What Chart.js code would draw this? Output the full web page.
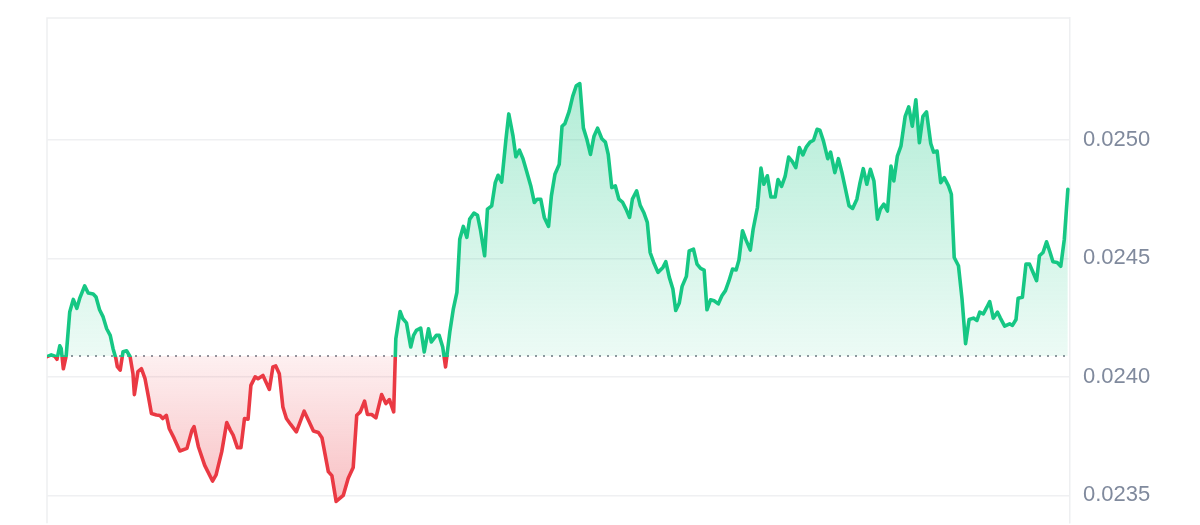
<!DOCTYPE html>
<html>
<head>
<meta charset="utf-8">
<script src="https://cdn.jsdelivr.net/npm/chart.js@4.4.1/dist/chart.umd.min.js"></script>
<style>
  html, body { margin: 0; padding: 0; background: #fff; }
  #priceChart { display: block; }
</style>
</head>
<body>
<canvas id="priceChart" width="1200" height="525"></canvas>
<script>
// Minutes since the start of the 24h window
const times = [
    0, 6, 11, 14, 18, 20, 23, 27, 32, 37,
    42, 46, 53, 58, 65, 69, 74, 79, 84, 89,
    93, 97, 99, 103, 107, 112, 117, 121, 123, 128,
    133, 138, 143, 147, 154, 159, 163, 168, 172, 179,
    187, 197, 204, 207, 213, 222, 233, 238, 246, 253,
    258, 262, 268, 273, 278, 283, 287, 293, 297, 304,
    313, 318, 322, 327, 332, 337, 343, 351, 362, 368,
    375, 382, 387, 396, 401, 407, 417, 424, 431, 436,
    441, 447, 451, 457, 463, 471, 477, 482, 488, 491,
    497, 501, 506, 512, 516, 520, 526, 531, 537, 541,
    548, 552, 557, 561, 567, 572, 577, 581, 586, 591,
    595, 601, 606, 610, 616, 620, 626, 631, 635, 640,
    646, 650, 656, 660, 665, 670, 675, 681, 686, 690,
    695, 700, 706, 710, 715, 721, 725, 729, 735, 740,
    745, 750, 755, 760, 765, 770, 775, 781, 786, 790,
    795, 800, 805, 810, 815, 820, 824, 830, 835, 840,
    845, 849, 854, 860, 867, 871, 876, 881, 885, 890,
    894, 900, 904, 910, 915, 920, 925, 929, 934, 939,
    945, 950, 955, 960, 965, 970, 974, 979, 984, 990,
    994, 1000, 1005, 1009, 1014, 1019, 1025, 1029, 1034, 1039,
    1044, 1049, 1054, 1059, 1064, 1069, 1074, 1079, 1084, 1088,
    1093, 1099, 1103, 1109, 1114, 1119, 1123, 1129, 1134, 1140,
    1144, 1149, 1154, 1159, 1164, 1169, 1173, 1178, 1183, 1188,
    1192, 1197, 1202, 1208, 1213, 1218, 1223, 1228, 1233, 1238,
    1244, 1248, 1253, 1258, 1263, 1269, 1273, 1277, 1283, 1288,
    1293, 1298, 1304, 1309, 1313, 1318, 1323, 1327, 1332, 1338,
    1342, 1348, 1355, 1359, 1364, 1367, 1373, 1378, 1383, 1387,
    1393, 1397, 1402, 1407, 1412, 1416, 1422, 1427, 1432, 1437
];

const prices = [
    0.024085, 0.024093, 0.024087, 0.024074, 0.024131, 0.024119, 0.024034, 0.024089, 0.024274, 0.024327,
    0.024289, 0.024331, 0.024384, 0.024354, 0.024350, 0.024337, 0.024283, 0.024253, 0.024203, 0.024175,
    0.024119, 0.024077, 0.024043, 0.024028, 0.024106, 0.024110, 0.024085, 0.024013, 0.023925, 0.024022,
    0.024034, 0.023992, 0.023912, 0.023845, 0.023839, 0.023837, 0.023824, 0.023837, 0.023782, 0.023740,
    0.023687, 0.023698, 0.023774, 0.023790, 0.023706, 0.023626, 0.023560, 0.023586, 0.023684, 0.023807,
    0.023775, 0.023754, 0.023701, 0.023701, 0.023824, 0.023821, 0.023964, 0.024000, 0.023992, 0.024006,
    0.023947, 0.024042, 0.024046, 0.024013, 0.023873, 0.023824, 0.023799, 0.023768, 0.023855, 0.023817,
    0.023771, 0.023765, 0.023743, 0.023600, 0.023583, 0.023474, 0.023499, 0.023572, 0.023617, 0.023838,
    0.023852, 0.023897, 0.023841, 0.023841, 0.023827, 0.023925, 0.023887, 0.023904, 0.023852, 0.024161,
    0.024276, 0.024245, 0.024228, 0.024126, 0.024175, 0.024196, 0.024206, 0.024105, 0.024203, 0.024147,
    0.024175, 0.024175, 0.024126, 0.024042, 0.024189, 0.024287, 0.024357, 0.024581, 0.024635, 0.024589,
    0.024666, 0.024691, 0.024682, 0.024623, 0.024511, 0.024708, 0.024722, 0.024820, 0.024851, 0.024822,
    0.025002, 0.025110, 0.025016, 0.024929, 0.024957, 0.024921, 0.024869, 0.024806, 0.024736, 0.024750,
    0.024750, 0.024673, 0.024635, 0.024764, 0.024855, 0.024897, 0.025058, 0.025069, 0.025121, 0.025184,
    0.025229, 0.025238, 0.025051, 0.025002, 0.024939, 0.025016, 0.025050, 0.025005, 0.024991, 0.024939,
    0.024799, 0.024806, 0.024750, 0.024738, 0.024708, 0.024673, 0.024750, 0.024785, 0.024724, 0.024694,
    0.024652, 0.024525, 0.024483, 0.024441, 0.024462, 0.024486, 0.024420, 0.024371, 0.024280, 0.024312,
    0.024382, 0.024424, 0.024532, 0.024539, 0.024476, 0.024458, 0.024451, 0.024283, 0.024325, 0.024321,
    0.024308, 0.024342, 0.024364, 0.024406, 0.024455, 0.024451, 0.024493, 0.024617, 0.024577, 0.024535,
    0.024623, 0.024715, 0.024881, 0.024813, 0.024849, 0.024759, 0.024759, 0.024833, 0.024804, 0.024846,
    0.024928, 0.024910, 0.024883, 0.024968, 0.024937, 0.024971, 0.024991, 0.024999, 0.025045, 0.025041,
    0.024995, 0.024921, 0.024949, 0.024862, 0.024921, 0.024862, 0.024806, 0.024722, 0.024711, 0.024750,
    0.024813, 0.024879, 0.024813, 0.024876, 0.024827, 0.024666, 0.024708, 0.024729, 0.024700, 0.024890,
    0.024827, 0.024932, 0.024974, 0.025100, 0.025140, 0.025058, 0.025170, 0.024988, 0.025100, 0.025119,
    0.024985, 0.024949, 0.024953, 0.024820, 0.024841, 0.024806, 0.024771, 0.024504, 0.024469, 0.024329,
    0.024140, 0.024242, 0.024248, 0.024238, 0.024273, 0.024266, 0.024294, 0.024318, 0.024248, 0.024273,
    0.024248, 0.024214, 0.024224, 0.024217, 0.024242, 0.024332, 0.024336, 0.024476, 0.024476, 0.024448,
    0.024406, 0.024511, 0.024525, 0.024570, 0.024525, 0.024486, 0.024483, 0.024467, 0.024581, 0.024792
];

// Price at the start of the window (dotted reference line)
const openPrice = 0.024088;

const yTicks = [0.0235, 0.0240, 0.0245, 0.0250];
const yTickLabels = ['0.0235', '0.0240', '0.0245', '0.0250'];
const yMin = 0.023382;
const yMax = 0.025515;

const green = '#16c784';
const red = '#ea3943';

// Left and top frame lines of the plot area
const framePlugin = {
    id: 'frame',
    beforeDraw(chart) {
        const { ctx, chartArea } = chart;
        ctx.save();
        ctx.strokeStyle = '#eeeff1';
        ctx.lineWidth = 1.5;
        ctx.beginPath();
        ctx.moveTo(chartArea.left, chartArea.bottom);
        ctx.lineTo(chartArea.left, chartArea.top);
        ctx.lineTo(chartArea.right, chartArea.top);
        ctx.stroke();
        ctx.restore();
    }
};

const points = times.map((t, i) => ({ x: t, y: prices[i] }));

const chart = new Chart(document.getElementById('priceChart'), {
    type: 'line',
    data: {
        datasets: [{
            data: points,
            borderColor: green,
            borderWidth: 3.6,
            borderJoinStyle: 'round',
            borderCapStyle: 'round',
            pointRadius: 0,
            tension: 0,
            order: 1
        }, {
            data: [{ x: 0, y: openPrice }, { x: 1437, y: openPrice }],
            borderColor: '#90959e',
            borderWidth: 2,
            borderDash: [2, 6],
            pointRadius: 0,
            fill: false,
            order: 2
        }]
    },
    options: {
        responsive: false,
        animation: false,
        devicePixelRatio: 1,
        layout: { padding: { left: 47, top: 18, right: 0, bottom: 0 } },
        plugins: {
            legend: { display: false },
            tooltip: { enabled: false }
        },
        scales: {
            x: {
                type: 'linear',
                min: 0,
                max: 1440,
                display: false
            },
            y: {
                position: 'right',
                min: yMin,
                max: yMax,
                afterBuildTicks: function(scale) {
                    scale.ticks = yTicks.map(v => ({ value: v }));
                },
                afterFit: function(scale) {
                    scale.width = 130;
                    scale.paddingTop = 0;
                    scale.paddingBottom = 0;
                },
                grid: {
                    color: '#eff0f2',
                    lineWidth: 1.5,
                    drawTicks: false
                },
                border: { display: true, color: '#eeeff1', width: 1.5 },
                ticks: {
                    padding: 13,
                    color: '#808a9d',
                    font: { family: '"Liberation Sans", Arial, sans-serif', size: 22 },
                    callback: function(value, index) {
                        return yTickLabels[index];
                    }
                }
            }
        }
    },
    plugins: [framePlugin]
});

// Colour line and fills once the scales are known
function applyColours(chart) {
    const ctx = chart.ctx;
    const area = chart.chartArea;
    const y = chart.scales.y;
    const baseY = y.getPixelForValue(openPrice);
    const stop = (baseY - area.top) / (area.bottom - area.top);

    const lineGrad = ctx.createLinearGradient(0, area.top, 0, area.bottom);
    lineGrad.addColorStop(0, green);
    lineGrad.addColorStop(stop, green);
    lineGrad.addColorStop(stop, red);
    lineGrad.addColorStop(1, red);

    const topY = y.getPixelForValue(Math.max(...prices));
    const aboveGrad = ctx.createLinearGradient(0, topY, 0, baseY);
    aboveGrad.addColorStop(0, 'rgba(22, 199, 132, 0.33)');
    aboveGrad.addColorStop(1, 'rgba(22, 199, 132, 0.08)');

    const bottomY = y.getPixelForValue(Math.min(...prices));
    const belowGrad = ctx.createLinearGradient(0, baseY, 0, bottomY);
    belowGrad.addColorStop(0, 'rgba(234, 57, 67, 0.08)');
    belowGrad.addColorStop(1, 'rgba(234, 57, 67, 0.32)');

    const ds = chart.data.datasets[0];
    ds.borderColor = lineGrad;
    ds.fill = { target: { value: openPrice }, above: aboveGrad, below: belowGrad };
    chart.update('none');
}

applyColours(chart);
</script>
</body>
</html>
